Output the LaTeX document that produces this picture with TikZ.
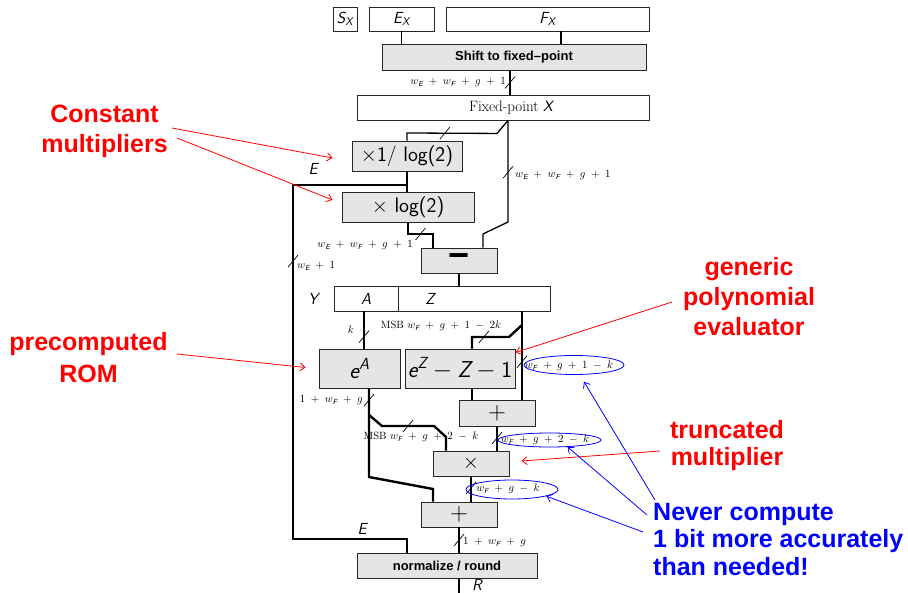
\documentclass[tikz,border=0pt]{standalone}
\usepackage{amsmath}
\usepackage{fontspec}
\newfontfamily\arialf{Liberation Sans}
\usetikzlibrary{arrows.meta,shapes.geometric,calc}

\newcommand{\sfi}[1]{\text{\sffamily\itshape #1}}
\newcommand{\pl}{\mskip9mu{+}\mskip9mu}
\newcommand{\mn}{\mskip9mu{-}\mskip9mu}
\newcommand{\mybox}[7]{\node[#6, minimum width={(#4)-(#2)}, minimum height={(#5)-(#3)}] (#1) at ({((#2)+(#4))/2},{((#3)+(#5))/2}) {#7};}
\newcommand{\sls}[1]{\draw[slashl] ([shift={(-5pt,-6pt)}]#1) -- ([shift={(5pt,6pt)}]#1);}

\tikzset{
  gbox/.style={draw=black!85, fill=black!10, line width=0.9pt, inner sep=0},
  wbox/.style={draw=black!85, fill=white, line width=0.9pt, inner sep=0},
  reg/.style={wbox, font=\fontsize{16}{19}\selectfont},
  op/.style={gbox, font=\sffamily\fontsize{21}{25}\selectfont},
  big/.style={gbox, font=\fontsize{23}{26}\selectfont},
  hv/.style={gbox, font=\arialf\bfseries\fontsize{13}{15}\selectfont},
  wire/.style={line width=1.3pt},
  wwire/.style={line width=2.4pt},
  ewire/.style={line width=2.8pt},
  slashl/.style={line width=0.7pt},
  lab/.style={font=\fontsize{10.5}{12}\selectfont, inner sep=0},
  ilab/.style={font=\fontsize{16}{19}\selectfont, inner sep=0},
  ann/.style={inner sep=0, font=\arialf\bfseries\fontsize{25}{30}\selectfont},
  rarr/.style={red, line width=0.8pt, -{Straight Barb[length=5pt,width=8pt]}},
  barr/.style={blue, line width=0.8pt, -{Straight Barb[length=5pt,width=8pt]}},
  ell/.style={ellipse, draw=blue, line width=0.8pt, inner sep=0}
}

\begin{document}
\begin{tikzpicture}[x=1pt,y=-1pt]
\useasboundingbox (0,0) rectangle (908,593);

% ---------- boxes ----------
\mybox{sx}{333}{7}{357}{31}{reg}{$\sfi{S}_{\sfi{X}}$}
\mybox{ex}{369}{7}{434}{31}{reg}{$\sfi{E}_{\sfi{X}}$}
\mybox{fx}{446}{7}{649}{31}{reg}{$\sfi{F}_{\sfi{X}}$}
\mybox{shift}{382}{44}{646}{70}{hv}{Shift to fixed\textendash point}
\mybox{fix}{357}{95}{649}{120}{wbox,font=\fontsize{15}{18}\selectfont}{\hspace*{16pt}Fixed-point $\sfi{X}$}
\mybox{m1}{352}{141}{462}{171}{op}{$\times$1/ log(2)}
\mybox{m2}{342}{192}{474}{222}{op}{$\times$ log(2)}
\mybox{sub}{421}{248}{497}{273}{gbox,font=\arialf\bfseries\fontsize{36}{38}\selectfont}{−}
\mybox{ya}{334}{286}{398}{311}{reg}{$\sfi{A}$}
\mybox{yz}{398}{286}{550}{311}{reg}{}
\mybox{ea}{319}{349}{400}{388}{big}{$\sfi{e}^{\sfi{A}}$}
\mybox{ez}{405}{349}{515}{388}{big}{$\sfi{e}^{\sfi{Z}}-\sfi{Z}-\textsf{1}$}
\mybox{add1}{459}{400}{535}{426}{gbox,font=\fontsize{24}{26}\selectfont}{$+$}
\mybox{mul}{433}{451}{509}{476}{gbox,font=\fontsize{20}{22}\selectfont}{$\times$}
\mybox{add2}{421}{502}{497}{527}{gbox,font=\fontsize{24}{26}\selectfont}{$+$}
\mybox{norm}{357}{553}{537}{578}{hv}{normalize / round}

\node[ilab] (zlab) at (430,299) {$\sfi{Z}$};
\node[ilab] (ylab) at (313,299) {$\sfi{Y}$};
\node[ilab] (elab1) at (313,169) {$\sfi{E}$};
\node[ilab] (elab2) at (362,529) {$\sfi{E}$};
\node[ilab] (rlab) at (477,585) {$\sfi{R}$};

% ---------- named coordinates ----------
\coordinate (fxo) at ([xshift=13.5pt]fx.south);
\coordinate (so) at ([xshift=-4pt]shift.south);
\coordinate (fo) at ([xshift=5pt]fix.south);
\coordinate (sr) at ([xshift=24pt]sub.north);
\coordinate (sl) at ([xshift=-26pt]sub.north);
\coordinate (ej) at (m1.south |- 0,185);
\coordinate (ao) at ([xshift=-2pt]ya.south);
\coordinate (zo) at ([xshift=48pt]yz.south);
\coordinate (ezi) at ([xshift=12pt]ez.north);
\coordinate (ezo) at ([xshift=12pt]ez.south);
\coordinate (eo) at ([xshift=9.5pt]ea.south);
\coordinate (mi) at ([xshift=-25pt]mul.north);
\coordinate (a2i) at ([xshift=-26pt]add2.north);
\coordinate (ro) at (norm.south -| add2.south);
\coordinate (rend) at (ro |- 0,593);

% ---------- wires ----------
\draw[wire] (ex.south) -- (ex.south |- shift.north);
\draw[wire] (fxo) -- (fxo |- shift.north);
\draw[wire] (so) -- coordinate[pos=.5] (s1) (so |- fix.north);
\draw[wire] (fo) -- ++(-11,13) -- coordinate[pos=.58] (s2) (m1.north |- 0,133) -- (m1.north);
\draw[wire] (fo) -- coordinate[pos=.51] (s3) (fo |- 0,222) -- (sr |- 0,234) -- (sr);
\draw[wire] (m1.south) -- (m1.south |- m2.north);
\draw[ewire] (ej) -- (ej -| 293,0) -- coordinate[pos=.215] (s5) (293,539) -- (ej |- 0,539) -- (ej |- norm.north);
\draw[wire] (m2.south) -- (m2.south |- 0,234) -- coordinate[pos=.5] (s4) (sl |- 0,234) -- (sl);
\draw[wire] (sub.south) -- (sub.south |- ya.north);
\draw[wire] (ao) -- coordinate[pos=.68] (s6) (ao |- ea.north);
\draw[wwire] (zo) -- coordinate[pos=.57] (s8) (zo |- add1.north);
\draw[wwire] (zo |- 0,325) -- ++(-13,12) -- coordinate[pos=.68] (s7) (ezi |- 0,337) -- (ezi);
\draw[wwire] (ezo) -- (ezo |- add1.north);
\draw[wwire] (eo) -- coordinate[pos=.44] (s9) (eo |- 0,415) -- ++(13,11) -- coordinate[pos=.5] (s10) (434,426) -- (mi |- 0,437) -- (mi);
\draw[wwire] (eo |- 0,415) -- (eo |- 0,477) -- (a2i |- 0,489) -- (a2i);
\draw[wwire] (add1.south) -- coordinate[pos=.48] (s11) (add1.south |- mul.north);
\draw[wwire] (mul.south) -- coordinate[pos=.46] (s12) (mul.south |- add2.north);
\draw[wwire] (add2.south) -- coordinate[pos=.5] (s13) (add2.south |- norm.north);
\draw[wwire] (ro) -- (rend);

% ---------- width slashes ----------
\sls{s1}\sls{s2}\sls{s3}\sls{s4}\sls{s5}\sls{s6}\sls{s7}
\sls{s8}\sls{s9}\sls{s10}\sls{s11}\sls{s12}\sls{s13}

% ---------- width labels ----------
\node[lab, anchor=east] (l1) at (506,82) {$w_{\sfi{E}}\pl w_{\sfi{F}}\pl g\pl 1$};
\node[lab, anchor=west] (l2) at (515,175) {$w_{\sfi{E}}\pl w_{\sfi{F}}\pl g\pl 1$};
\node[lab, anchor=east] (l3) at (413,245) {$w_{\sfi{E}}\pl w_{\sfi{F}}\pl g\pl 1$};
\node[lab, anchor=west] (l4) at (297,266) {$w_{\sfi{E}}\pl 1$};
\node[lab] (l5) at (351,330) {$k$};
\node[lab] (l6) at (441,326) {MSB $w_{\sfi{F}}\pl g\pl 1\mn 2k$};
\node[lab] (l7) at (569,366) {$w_{\sfi{F}}\pl g\pl 1\mn k$};
\node[lab, anchor=east] (l8) at (363,400) {$1\pl w_{\sfi{F}}\pl g$};
\node[lab] (l9) at (421,437) {MSB $w_{\sfi{F}}\pl g\pl 2\mn k$};
\node[lab] (l10) at (545,440) {$w_{\sfi{F}}\pl g\pl 2\mn k$};
\node[lab] (l11) at (508,489) {$w_{\sfi{F}}\pl g\mn k$};
\node[lab, anchor=west] (l12) at (463,542) {$1\pl w_{\sfi{F}}\pl g$};

\node[ell, minimum width=100, minimum height=19] (el1) at (574,365) {};
\node[ell, minimum width=103, minimum height=14] (el2) at (549.5,440) {};
\node[ell, minimum width=92, minimum height=19] (el3) at (512,489.5) {};

% ---------- annotations ----------
\node[ann, red, align=center, anchor=north, font=\arialf\bfseries\fontsize{25}{30}\selectfont] (cm) at (104.5,105) {Constant\\multipliers};
\node[ann, red, align=center, anchor=north, font=\arialf\bfseries\fontsize{25}{32}\selectfont] (rom) at (88.5,332) {precomputed\\ROM};
\node[ann, red, align=center, anchor=north, font=\arialf\bfseries\fontsize{25}{30}\selectfont] (gpe) at (749,257) {generic\\polynomial\\evaluator};
\node[ann, red, align=center, anchor=north, font=\arialf\bfseries\fontsize{25}{27}\selectfont] (tm) at (727,420) {truncated\\multiplier};
\node[ann, blue, align=left, anchor=north west, font=\arialf\bfseries\fontsize{25}{27.5}\selectfont] (nv) at (653,503) {Never compute\\1 bit more accurately\\than needed!};

\coordinate (c1) at (172,128);
\coordinate (c2) at (177,138);
\coordinate (c3) at (177,354);
\coordinate (c4) at (672,302);
\coordinate (c5) at (660,451);
\coordinate (b1) at (655,500);
\coordinate (b2) at (647,515);
\coordinate (b3) at (643,532);

\draw[rarr] (c1) -- ([shift={(-19pt,-2pt)}]m1.west);
\draw[rarr] (c2) -- ([shift={(-9pt,7pt)}]m2.west);
\draw[rarr] (c3) -- ([shift={(-13pt,1pt)}]ea.west);
\draw[rarr] (c4) -- ([yshift=-4pt]ez.north east);
\draw[rarr] (c5) -- ([shift={(12pt,2.5pt)}]mul.east);
\draw[barr, shorten >=8pt] (b1) -- (el1);
\draw[barr] (b2) -- (el2.-21);
\draw[barr] (b3) -- (el3.-11);
\end{tikzpicture}
\end{document}
